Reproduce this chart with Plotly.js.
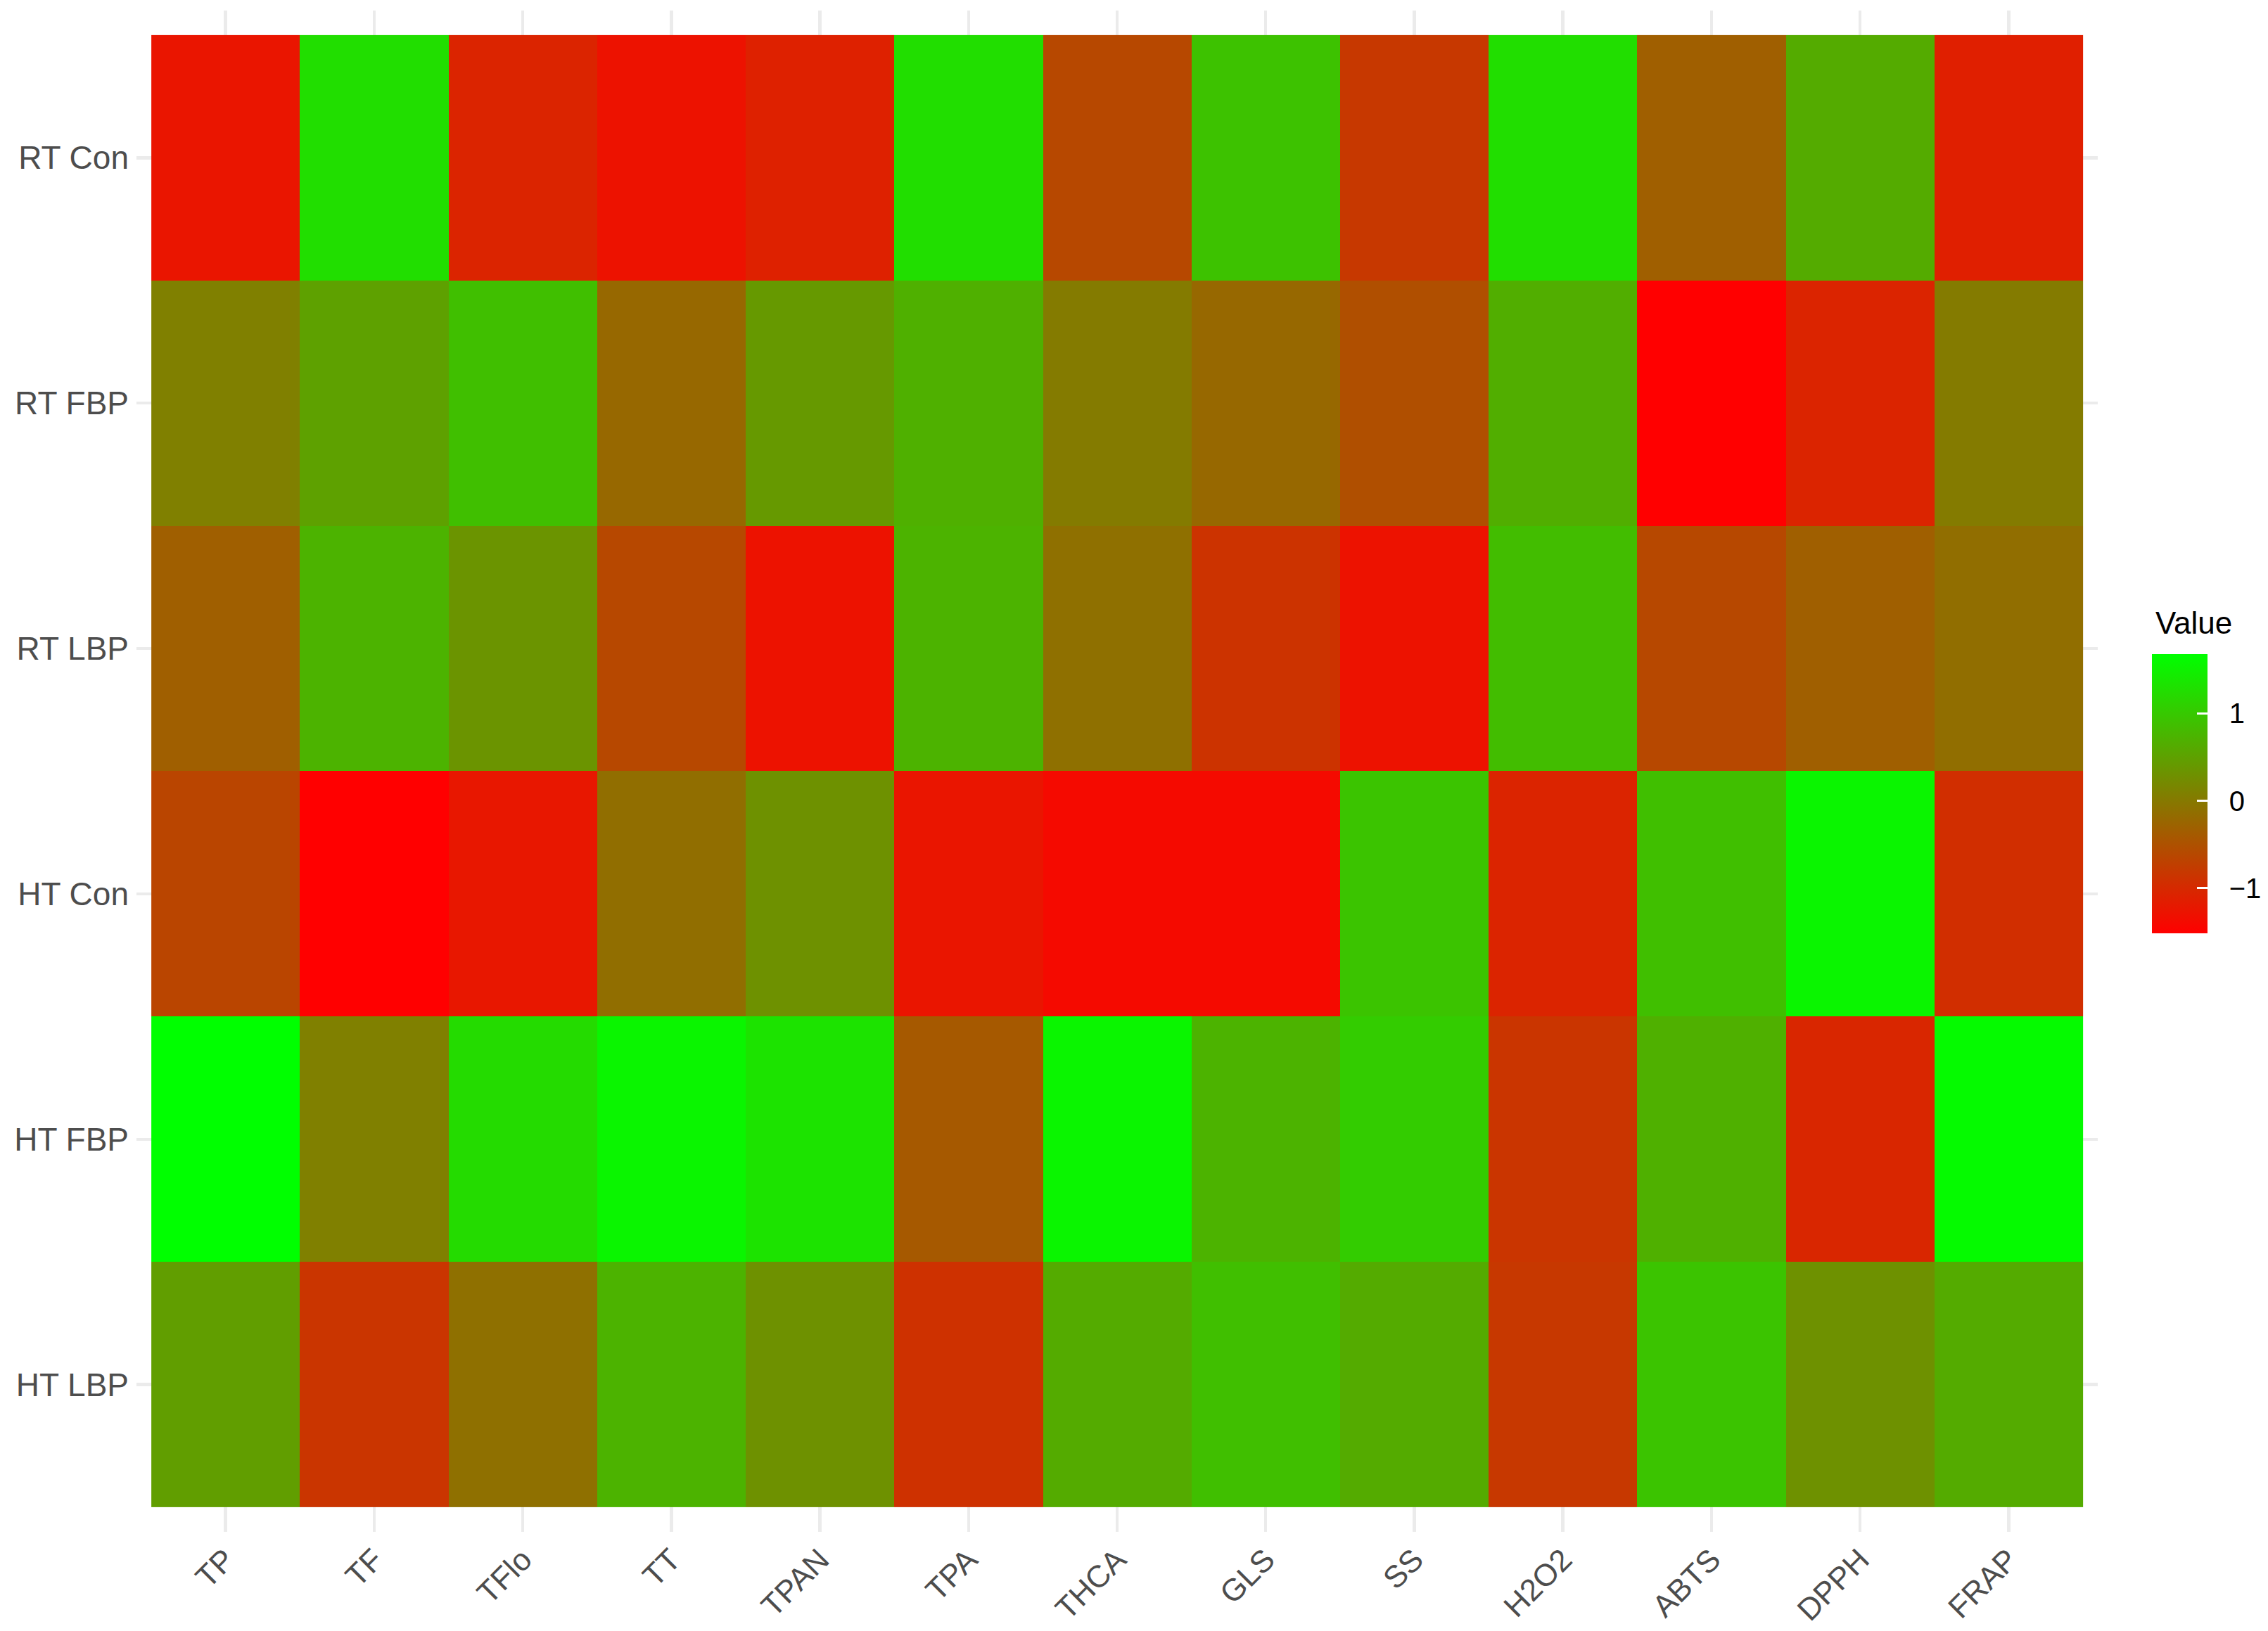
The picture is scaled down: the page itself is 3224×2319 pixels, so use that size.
<!DOCTYPE html>
<html>
<head>
<meta charset="utf-8">
<script src="https://cdn.plot.ly/plotly-3.0.1.min.js"></script>
<style>
  html, body { margin: 0; padding: 0; background: #ffffff; }
  #chart { width: 3224px; height: 2319px; }
</style>
</head>
<body>
<div id="chart"></div>
<script>
// traits on x, treatment groups on y (top to bottom)
const TRAITS = ['TP', 'TF', 'TFlo', 'TT', 'TPAN', 'TPA', 'THCA', 'GLS', 'SS', 'H2O2', 'ABTS', 'DPPH', 'FRAP'];
const GROUPS = ['RT Con', 'RT FBP', 'RT LBP', 'HT Con', 'HT FBP', 'HT LBP'];

// scaled values, one row per group
const RT_CON = [-1.26, 1.26, -1.07, -1.30, -1.10, 1.26, -0.62, 0.91, -0.82, 1.26, -0.33, 0.62, -1.13];
const RT_FBP = [0.08, 0.50, 0.88, -0.21, 0.40, 0.69, 0.02, -0.21, -0.53, 0.66, -1.52, -1.07, 0.02];
const RT_LBP = [-0.33, 0.72, 0.34, -0.62, -1.30, 0.72, -0.11, -0.88, -1.30, 0.85, -0.62, -0.33, -0.14];
const HT_CON = [-0.66, -1.52, -1.23, -0.14, 0.30, -1.26, -1.39, -1.39, 0.94, -1.07, 0.88, 1.55, -0.94];
const HT_FBP = [1.68, 0.08, 1.23, 1.55, 1.33, -0.40, 1.55, 0.72, 1.04, -0.85, 0.69, -1.04, 1.62];
const HT_LBP = [0.46, -0.85, -0.11, 0.72, 0.30, -0.91, 0.62, 0.88, 0.62, -0.82, 0.94, 0.30, 0.62];

const CB_TICKS = [-1, 0, 1];
const LEGEND_TITLE = 'Value';

const FONT = 'Liberation Sans, Arial, sans-serif';
const W = 3224, H = 2319;
// plot box in pixels (panel incl. the small expansion round the tiles)
const BOX = { l: 194, r: 2982, t: 15, b: 2178 };

// pad the colourbar labels away from the bar, like ggplot does
const pad = '\u00A0\u00A0';
const cbText = CB_TICKS.map(v => pad + (v < 0 ? '\u2212' + Math.abs(v) : String(v)));

const trace = {
    type: 'heatmap',
    x: TRAITS,
    y: GROUPS,
    z: [RT_CON, RT_FBP, RT_LBP, HT_CON, HT_FBP, HT_LBP],
    colorscale: [[0, '#FF0000'], [1, '#00FF00']],
    colorbar: {
        xref: 'container',
        yref: 'container',
        x: 3059 / W,
        xanchor: 'left',
        y: 1 - 1210 / H,
        yanchor: 'middle',
        lenmode: 'pixels',
        len: 397,
        thickness: 79,
        thicknessmode: 'pixels',
        outlinewidth: 0,
        xpad: 0,
        ypad: 0,
        tickvals: CB_TICKS,
        ticktext: cbText,
        ticks: 'inside',
        ticklen: 15,
        tickwidth: 3,
        tickcolor: '#ffffff',
        tickfont: { family: FONT, size: 40, color: '#000000' }
    }
};

const layout = {
    width: W,
    height: H,
    margin: { l: BOX.l, r: W - BOX.r, t: BOX.t, b: H - BOX.b },
    paper_bgcolor: '#ffffff',
    plot_bgcolor: '#ffffff',
    font: { family: FONT, color: '#4D4D4D' },
    showlegend: false,
    xaxis: {
        type: 'category',
        categoryorder: 'array',
        categoryarray: TRAITS,
        range: [-0.6, TRAITS.length - 0.4],
        showgrid: true,
        gridcolor: '#EBEBEB',
        gridwidth: 4.5,
        zeroline: false,
        showline: false,
        ticks: '',
        tickangle: -45,
        ticklabelstandoff: 4,
        tickfont: { family: FONT, size: 44, color: '#4D4D4D' }
    },
    yaxis: {
        type: 'category',
        categoryorder: 'array',
        categoryarray: GROUPS,
        range: [GROUPS.length - 0.4, -0.6],
        showgrid: true,
        gridcolor: '#EBEBEB',
        gridwidth: 4.5,
        zeroline: false,
        showline: false,
        ticks: '',
        ticklabelstandoff: 10,
        tickfont: { family: FONT, size: 46, color: '#4D4D4D' }
    },
    annotations: [{
        text: LEGEND_TITLE,
        xref: 'paper',
        yref: 'paper',
        x: (3062 - BOX.l) / (BOX.r - BOX.l),
        y: (BOX.b - 885) / (BOX.b - BOX.t),
        xanchor: 'left',
        yanchor: 'middle',
        showarrow: false,
        font: { family: FONT, size: 44, color: '#000000' }
    }]
};

Plotly.newPlot('chart', [trace], layout, { displayModeBar: false, staticPlot: true });
</script>
</body>
</html>
